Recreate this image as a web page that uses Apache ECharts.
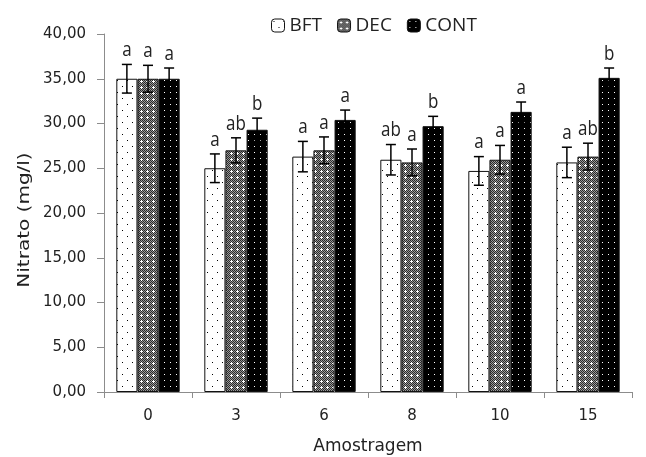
<!DOCTYPE html>
<html>
<head>
<meta charset="utf-8">
<script src="https://cdn.jsdelivr.net/npm/echarts@6/dist/echarts.min.js"></script>
<style>
  html, body { margin: 0; padding: 0; background: #fff; }
  #chart { width: 646px; height: 457px; }
</style>
</head>
<body>
<div id="chart"></div>
<script>
// Sampling days
const categories = ['0', '3', '6', '8', '10', '15'];
const seriesNames = ['BFT', 'DEC', 'CONT'];

// Mean nitrate (mg/l) per treatment
const bftValues = [35.0, 25.0, 26.3, 25.95, 24.7, 25.65];
const decValues = [35.0, 27.0, 27.0, 25.65, 25.95, 26.3];
const contValues = [35.0, 29.3, 30.4, 29.7, 31.3, 35.1];

// Standard deviation per treatment
const bftErrors = [1.6, 1.6, 1.7, 1.7, 1.6, 1.7];
const decErrors = [1.5, 1.4, 1.5, 1.5, 1.6, 1.5];
const contErrors = [1.2, 1.3, 1.1, 1.1, 1.1, 1.1];

// Significance letters
const bftLetters = ['a', 'a', 'a', 'ab', 'a', 'a'];
const decLetters = ['a', 'ab', 'a', 'a', 'a', 'ab'];
const contLetters = ['a', 'b', 'a', 'b', 'a', 'b'];

// Y axis ticks
const yMin = 0, yMax = 40, yStep = 5;

const values = [bftValues, decValues, contValues];
const errors = [bftErrors, decErrors, contErrors];
const letters = [bftLetters, decLetters, contLetters];

// Fill patterns drawn on small canvases
function makeTile(w, h, draw) {
  const c = document.createElement('canvas');
  c.width = w; c.height = h;
  const ctx = c.getContext('2d');
  draw(ctx);
  return c;
}
const dotsLight = makeTile(10, 12, ctx => {
  ctx.fillStyle = '#fff'; ctx.fillRect(0, 0, 10, 12);
  ctx.fillStyle = '#000';
  ctx.fillRect(2, 2, 1, 1);
  ctx.fillRect(7, 8, 1, 1);
});
const checker = makeTile(6, 6, ctx => {
  ctx.fillStyle = '#9a9a9a'; ctx.fillRect(0, 0, 6, 6);
  ctx.fillStyle = '#2a2a2a';
  for (let y = 0; y < 6; y++)
    for (let x = 0; x < 6; x++)
      if ((x + y) % 2 === 0) ctx.fillRect(x, y, 1, 1);
  ctx.fillStyle = '#fff';
  ctx.fillRect(2, 3, 3, 1);
  ctx.fillRect(3, 2, 1, 3);
});
const dotsDark = makeTile(6, 6, ctx => {
  ctx.fillStyle = '#000'; ctx.fillRect(0, 0, 6, 6);
  ctx.fillStyle = '#fff';
  ctx.fillRect(2, 2, 1, 1);
});
const patterns = [dotsLight, checker, dotsDark];

const barGroupRatio = 0.72;
const textColor = '#222';
const fontFamily = 'DejaVu Sans, Verdana, sans-serif';
const labelFont = '"Open Sans", "Liberation Sans", sans-serif';

const barSeries = seriesNames.map((name, i) => ({
  name: name,
  type: 'bar',
  data: values[i],
  barGap: '0%',
  barCategoryGap: '28%',
  itemStyle: {
    color: { image: patterns[i], repeat: 'repeat' },
    borderColor: '#111',
    borderWidth: 1
  },
  z: 2
}));

const errorSeries = seriesNames.map((name, i) => ({
  type: 'custom',
  name: name + '-err',
  silent: true,
  z: 5,
  data: categories.map((c, k) => [k, values[i][k], errors[i][k]]),
  renderItem: function (params, api) {
    const k = api.value(0);
    const mean = api.value(1);
    const err = api.value(2);
    const band = api.size([1, 0])[0];
    const barW = band * barGroupRatio / 3;
    const center = api.coord([k, mean]);
    const x = center[0] + (i - 1) * barW;
    const top = api.coord([k, mean + err])[1];
    const bot = api.coord([k, mean - err])[1];
    const cap = 5;
    const style = { stroke: '#000', lineWidth: 1.5 };
    return {
      type: 'group',
      children: [
        { type: 'line', shape: { x1: x, y1: top, x2: x, y2: bot }, style: style },
        { type: 'line', shape: { x1: x - cap, y1: top, x2: x + cap, y2: top }, style: style },
        { type: 'line', shape: { x1: x - cap, y1: bot, x2: x + cap, y2: bot }, style: style },
        {
          type: 'text',
          scaleY: 1.15,
          x: x, y: top - 4,
          style: {
            text: letters[i][k],
            x: 0, y: 0,
            align: 'center', verticalAlign: 'bottom',
            fill: textColor,
            font: '17px ' + labelFont
          }
        }
      ]
    };
  }
}));

const chart = echarts.init(document.getElementById('chart'), null, { renderer: 'canvas' });
chart.setOption({
  animation: false,
  backgroundColor: '#fff',
  legend: {
    data: seriesNames,
    top: 11,
    left: 266,
    itemWidth: 13,
    itemHeight: 13,
    itemGap: 15,
    textStyle: { color: textColor, fontSize: 19, fontFamily: labelFont, padding: [0, 0, 0, 0] },
    itemStyle: { borderColor: '#111', borderWidth: 1 }
  },
  // Y axis title, stretched along its length
  graphic: [{
    type: 'text',
    x: 24.5, y: 220,
    rotation: Math.PI / 2,
    scaleX: 1.25,
    style: {
      text: 'Nitrato (mg/l)',
      x: 0, y: 0,
      align: 'center', verticalAlign: 'middle',
      fill: textColor,
      font: '16px ' + fontFamily
    }
  }],
  grid: { left: 104, right: 14, top: 34, bottom: 65, containLabel: false, outerBoundsMode: 'none' },
  xAxis: {
    type: 'category',
    data: categories,
    name: 'Amostragem',
    nameLocation: 'middle',
    nameGap: 46,
    nameTextStyle: { color: textColor, fontSize: 17, fontFamily: fontFamily },
    axisLine: { lineStyle: { color: '#8c8c8c', width: 1 } },
    axisTick: { show: true, alignWithLabel: false, length: 6, lineStyle: { color: '#8c8c8c' } },
    axisLabel: { color: textColor, fontSize: 15, fontFamily: fontFamily, margin: 17 }
  },
  yAxis: {
    type: 'value',
    min: yMin, max: yMax, interval: yStep,
    axisLine: { show: true, lineStyle: { color: '#8c8c8c', width: 1 } },
    axisTick: { show: true, length: 7, lineStyle: { color: '#8c8c8c' } },
    splitLine: { show: false },
    axisLabel: {
      color: textColor, fontSize: 15, fontFamily: fontFamily, margin: 18,
      formatter: v => v.toFixed(2).replace('.', ',')
    }
  },
  series: barSeries.concat(errorSeries)
});
</script>
</body>
</html>
